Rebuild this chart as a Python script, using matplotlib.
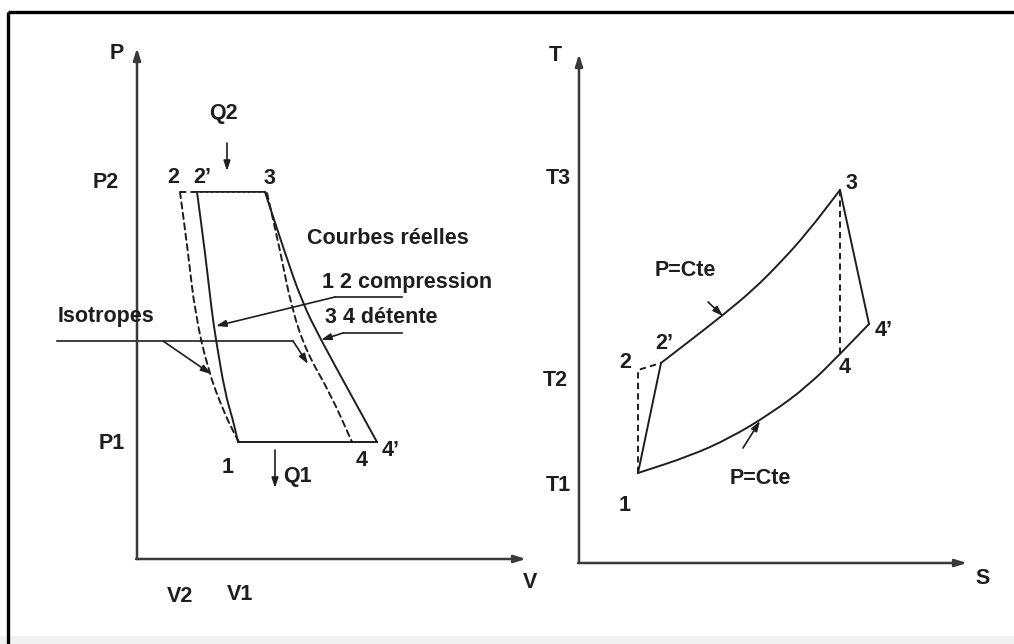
import matplotlib
matplotlib.use("Agg")
import matplotlib.pyplot as plt
from matplotlib.patches import Rectangle, PathPatch
from matplotlib.path import Path

# ---------------- data (pixel-space coordinates) -------------
# P-V diagram
pv_axis_origin = (137, 559)
pv_axis_ptop = (137, 48)
pv_axis_vend = (526, 559)

pv_top_dashed_x = [180, 197]          # 2 -> 2' (dashed part of P2 isobar)
pv_top_solid_x = [197, 265]           # 2' -> 3
pv_top_y = 192
pv_bottom_x = [238, 377]              # 1 -> 4'
pv_bottom_y = 442

pv_isen_comp_x = [180, 188, 195, 208, 223, 234, 239]      # 2 -> 1 (isentropic, dashed)
pv_isen_comp_y = [192, 252, 313, 370, 410, 433, 442]
pv_real_comp_x = [197, 205, 212, 216, 225, 233, 238]      # 2' -> 1 (real, solid)
pv_real_comp_y = [192, 252, 313, 340, 393, 420, 442]
pv_real_exp_x = [265, 284, 302, 321, 350, 377]            # 3 -> 4' (real, solid)
pv_real_exp_y = [192, 250, 302, 340, 393, 442]
pv_isen_exp_x = [267, 280, 292, 307, 330, 352]            # 3 -> 4 (isentropic, dashed)
pv_isen_exp_y = [193, 250, 310, 353, 393, 442]

pv_labels = [("P", 117, 53), ("Q2", 223, 113), ("P2", 106, 182),
             ("2", 173, 177), ("2\u2019", 202, 177), ("3", 269, 178),
             ("Courbes réelles", 388, 238), ("1 2 compression", 407, 282),
             ("3 4 détente", 381, 317), ("Isotropes", 106, 316),
             ("P1", 112, 443), ("1", 228, 467), ("Q1", 297, 476),
             ("4", 362, 460), ("4\u2019", 391, 450),
             ("V2", 180, 597), ("V1", 240, 595), ("V", 530, 582)]

# T-S diagram
ts_axis_origin = (579, 563)
ts_axis_ttop = (579, 54)
ts_axis_send = (967, 563)

ts_upper_x = [661, 687, 723, 753, 780, 807, 840]          # 2' -> 3 (P = Cte)
ts_upper_y = [363, 343, 315, 290, 263, 233, 190]
ts_lower_x = [638, 690, 730, 770, 808, 842, 869]          # 1 -> 4' (P = Cte)
ts_lower_y = [473, 456, 438, 414, 386, 352, 324]
ts_real_comp = [(638, 473), (661, 363)]                   # 1 -> 2'
ts_real_exp = [(840, 190), (869, 324)]                    # 3 -> 4'
ts_isen_comp = [(638, 473), (638, 370), (661, 363)]       # 1 -> 2 -> 2'
ts_isen_exp = [(840, 190), (840, 353)]                    # 3 -> 4

ts_labels = [("T", 555, 55), ("T3", 558, 178), ("3", 851, 183),
             ("P=Cte", 685, 270), ("2\u2019", 664, 343), ("2", 625, 362),
             ("T2", 555, 380), ("4\u2019", 884, 330), ("4", 845, 367),
             ("T1", 558, 485), ("P=Cte", 760, 478), ("1", 625, 505),
             ("S", 983, 578)]

# ---------------- drawing -------------
W, H = 1014, 644
fig = plt.figure(figsize=(W / 100, H / 100), dpi=100)
ax = fig.add_axes([0, 0, 1, 1])
ax.set_xlim(0, W)
ax.set_ylim(H, 0)
ax.axis("off")

INK = "#1e1e1e"
AXC = "#3a3a3a"
LW = 1.4
DASH = (0, (3.2, 2.2))
FONT = dict(family=["Liberation Sans", "DejaVu Sans"], fontweight="bold",
            fontsize=15.5, color=INK, ha="center", va="center")

# frame
ax.add_patch(Rectangle((0, 636), W, 8, facecolor="#f1f1f1", edgecolor="none"))
ax.plot([8, W], [12, 12], color="black", lw=2.4, solid_capstyle="butt")
ax.plot([8, 8], [12, H], color="black", lw=2.4, solid_capstyle="butt")


def smooth(xs, ys, ls="-"):
    """Smooth curve through the read points using quadratic Bezier segments."""
    pts = list(zip(xs, ys))
    verts = [pts[0]]
    codes = [Path.MOVETO]
    n = len(pts)
    if n == 2:
        verts.append(pts[1])
        codes.append(Path.LINETO)
    else:
        m = ((pts[0][0] + pts[1][0]) / 2, (pts[0][1] + pts[1][1]) / 2)
        verts.append(m)
        codes.append(Path.LINETO)
        for i in range(1, n - 1):
            end = ((pts[i][0] + pts[i + 1][0]) / 2, (pts[i][1] + pts[i + 1][1]) / 2)
            verts += [pts[i], end]
            codes += [Path.CURVE3, Path.CURVE3]
        verts.append(pts[-1])
        codes.append(Path.LINETO)
    ax.add_patch(PathPatch(Path(verts, codes), facecolor="none", edgecolor=INK,
                           lw=LW, ls=ls, capstyle="round"))


def axis_arrow(p0, p1):
    ax.annotate("", xy=p1, xytext=p0,
                arrowprops=dict(arrowstyle="-|>,head_length=0.7,head_width=0.22",
                                color=AXC, lw=1.8, shrinkA=0, shrinkB=0))


def pointer(p0, p1):
    ax.annotate("", xy=p1, xytext=p0,
                arrowprops=dict(arrowstyle="-|>,head_length=0.6,head_width=0.2",
                                color=INK, lw=1.2, shrinkA=0, shrinkB=0))


# P-V axes
axis_arrow(pv_axis_origin, pv_axis_ptop)
axis_arrow((pv_axis_origin[0] - 1, pv_axis_origin[1]), pv_axis_vend)

# P-V cycle
ax.plot(pv_top_dashed_x, [pv_top_y] * 2, color=INK, lw=LW, ls=DASH)
ax.plot(pv_top_solid_x, [pv_top_y] * 2, color=INK, lw=LW)
ax.plot(pv_top_solid_x, [pv_top_y] * 2, color="#555555", lw=LW * 0.5, ls=DASH)
ax.plot(pv_bottom_x, [pv_bottom_y] * 2, color=INK, lw=LW)
smooth(pv_isen_comp_x, pv_isen_comp_y, ls=DASH)
smooth(pv_real_comp_x, pv_real_comp_y)
smooth(pv_real_exp_x, pv_real_exp_y)
smooth(pv_isen_exp_x, pv_isen_exp_y, ls=DASH)

# heat arrows
pointer((227, 143), (227, 171))
pointer((275, 450), (275, 488))

# annotation pointers
ax.plot([402, 335], [297, 297], color=INK, lw=1.2)
pointer((335, 297), (216, 326))
ax.plot([402, 343], [333, 333], color=INK, lw=1.2)
pointer((343, 333), (321, 340))
ax.plot([57, 293], [341, 341], color=INK, lw=1.2)
pointer((293, 341), (308, 364))
pointer((163, 341), (211, 374))

for txt, x, y in pv_labels:
    ax.text(x, y, txt, **FONT)

# T-S axes
axis_arrow(ts_axis_origin, ts_axis_ttop)
axis_arrow((ts_axis_origin[0] - 1, ts_axis_origin[1]), ts_axis_send)

# T-S cycle
smooth(ts_upper_x, ts_upper_y)
smooth(ts_lower_x, ts_lower_y)
ax.plot(*zip(*ts_real_comp), color=INK, lw=LW)
ax.plot(*zip(*ts_real_exp), color=INK, lw=LW)
ax.plot(*zip(*ts_isen_comp), color=INK, lw=LW, ls=DASH)
ax.plot(*zip(*ts_isen_exp), color=INK, lw=LW, ls=DASH)

pointer((708, 302), (723, 316))
pointer((743, 448), (760, 421))

for txt, x, y in ts_labels:
    ax.text(x, y, txt, **FONT)

fig.savefig("out.png", dpi=100, facecolor="white")
